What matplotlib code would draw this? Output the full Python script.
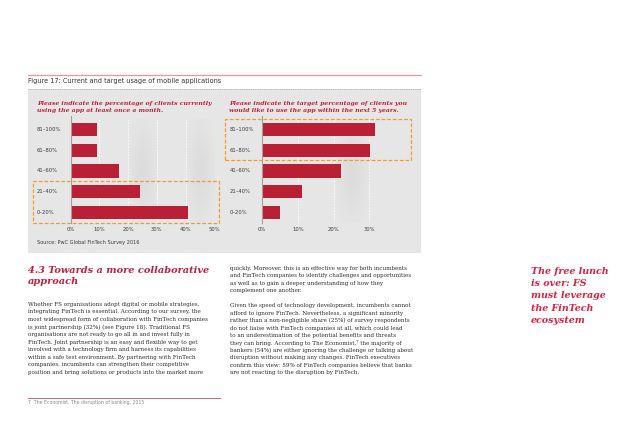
import numpy as np
import matplotlib
matplotlib.use("Agg")
import matplotlib.pyplot as plt
from matplotlib.patches import Rectangle
from matplotlib.lines import Line2D

# ---------------- data ----------------
categories = ['0–20%', '21–40%', '41–60%', '61–80%', '81–100%']
current_usage = [40.7, 24.0, 16.8, 9.1, 9.2]
target_usage = [5.1, 11.2, 22.1, 30.2, 31.5]
left_ticks = [0, 10, 20, 30, 40, 50]
right_ticks = [0, 10, 20, 30]

figure_title = "Figure 17: Current and target usage of mobile applications"
left_title = "Please indicate the percentage of clients currently\nusing the app at least once a month."
right_title = "Please indicate the target percentage of clients you\nwould like to use the app within the next 5 years."
source_text = "Source: PwC Global FinTech Survey 2016"
heading = "4.3 Towards a more collaborative\napproach"
body_left = [
    "Whether FS organisations adopt digital or mobile strategies,",
    "integrating FinTech is essential. According to our survey, the",
    "most widespread form of collaboration with FinTech companies",
    "is joint partnership (32%) (see Figure 18). Traditional FS",
    "organisations are not ready to go all in and invest fully in",
    "FinTech. Joint partnership is an easy and flexible way to get",
    "involved with a technology firm and harness its capabilities",
    "within a safe test environment. By partnering with FinTech",
    "companies, incumbents can strengthen their competitive",
    "position and bring solutions or products into the market more",
]
body_right_1 = [
    "quickly. Moreover, this is an effective way for both incumbents",
    "and FinTech companies to identify challenges and opportunities",
    "as well as to gain a deeper understanding of how they",
    "complement one another.",
]
body_right_2 = [
    "Given the speed of technology development, incumbents cannot",
    "afford to ignore FinTech. Nevertheless, a significant minority",
    "rather than a non-negligible share (25%) of survey respondents",
    "do not liaise with FinTech companies at all, which could lead",
    "to an underestimation of the potential benefits and threats",
    "they can bring. According to The Economist,\u2077 the majority of",
    "bankers (54%) are either ignoring the challenge or talking about",
    "disruption without making any changes. FinTech executives",
    "confirm this view: 59% of FinTech companies believe that banks",
    "are not reacting to the disruption by FinTech.",
]
footnote = "7  The Economist, The disruption of banking, 2015"
sidebar = "The free lunch\nis over: FS\nmust leverage\nthe FinTech\necosystem"

# ---------------- style ----------------
W, H = 640, 425
BAR = '#b91f35'
PANEL = '#e6e6e6'
ORANGE = '#f39c2e'
RED_HEAD = '#c41e3a'
RED_SIDE = '#e0203c'
TXT = '#3a3a3a'

fig = plt.figure(figsize=(6.4, 4.25), dpi=100)
fig.patch.set_facecolor('white')


def fx(x):
    return x / W


def fy(y):
    return 1 - y / H


def axes_px(l, t, r, b):
    return fig.add_axes([fx(l), fy(b), (r - l) / W, (b - t) / H])


# top red rule, title, dashed rule
fig.add_artist(Line2D([fx(28), fx(421)], [fy(75), fy(75)], color='#e89898', lw=0.9))
fig.text(fx(28), fy(81.5), figure_title, fontsize=4.7, color='#333333',
         family='DejaVu Sans', va='center', ha='left')
# grey panel
fig.add_artist(Rectangle((fx(28), fy(253)), (421 - 28) / W, (253 - 89) / H,
                         transform=fig.transFigure, facecolor=PANEL, edgecolor='none', zorder=0))
fig.add_artist(Line2D([fx(28), fx(421)], [fy(89.3), fy(89.3)], color='#a8a8a8', lw=0.5,
                      linestyle=(0, (2, 1.2)), zorder=1))

# chart titles
fig.text(fx(37), fy(107), left_title, fontsize=4.45, color=RED_HEAD, family='DejaVu Serif',
         weight='bold', style='italic', va='center', ha='left', linespacing=1.45)
fig.text(fx(229), fy(107), right_title, fontsize=4.45, color=RED_HEAD, family='DejaVu Serif',
         weight='bold', style='italic', va='center', ha='left', linespacing=1.45)


def band_image(ax, x0, x1):
    yy = np.linspace(-1, 1, 80)[:, None]
    xx = np.linspace(-1, 1, 40)[None, :]
    shade = 0.902 - 0.04 * np.exp(-(yy / 0.85) ** 2) * np.exp(-(xx / 0.85) ** 2)
    ax.imshow(shade, cmap='gray', vmin=0, vmax=1, extent=(x0, x1, -0.5, 4.5),
              aspect='auto', zorder=0, interpolation='bicubic')


def draw_chart(ax, values, ticks, xmax, bands, labx):
    ax.set_facecolor(PANEL)
    for b0, b1 in bands:
        band_image(ax, b0, b1)
    y = np.arange(len(categories))
    ax.barh(y, values, height=0.63, color=BAR, zorder=3)
    for t in ticks[1:]:
        ax.axvline(t, color='white', lw=0.6, linestyle=(0, (2, 1.5)), zorder=1)
    ax.axvline(0, color='#a89c9c', lw=0.8, zorder=4, ymin=0, ymax=1.03, clip_on=False)
    ax.set_xlim(0, xmax)
    ax.set_ylim(-0.5, 4.5)
    ax.set_xticks(ticks)
    ax.set_xticklabels([f'{t}%' for t in ticks], fontsize=3.8, color=TXT)
    ax.tick_params(axis='x', length=0, pad=3.5)
    ax.set_yticks([])
    for s in ax.spines.values():
        s.set_visible(False)
    for i, c in enumerate(categories):
        ax.text(labx, i, c, transform=ax.get_yaxis_transform(), fontsize=3.8,
                color=TXT, va='center', ha='left', family='DejaVu Sans')


# left chart: 0% at x=70.5, 50% at 214.3; bar centres 129.7 (top) .. 212.3 (bottom)
axL = axes_px(70.5, 119.4, 214.3, 222.6)
draw_chart(axL, current_usage, left_ticks, 50, [(20, 30), (40, 50)],
           (37 - 70.5) / (214.3 - 70.5))
# right chart: 0% at 262, 10% per 35.8 px
axR = axes_px(262, 119.4, 262 + 3.5 * 35.8, 222.6)
draw_chart(axR, target_usage, right_ticks, 35, [(20, 30)],
           (230 - 262) / (3.5 * 35.8))

# orange dashed highlight boxes
for (l, t, r, b) in [(33.3, 181, 218.7, 223.3), (225, 119.3, 410.7, 160.3)]:
    fig.add_artist(Rectangle((fx(l), fy(b)), (r - l) / W, (b - t) / H,
                             transform=fig.transFigure, facecolor='none', edgecolor=ORANGE,
                             lw=0.9, linestyle=(0, (3, 1.5)), zorder=5))

fig.text(fx(37), fy(242.7), source_text, fontsize=3.6, color=TXT, family='DejaVu Sans',
         va='center', ha='left')

# heading
fig.text(fx(28), fy(276), heading, fontsize=7.0, color=RED_HEAD, family='DejaVu Serif',
         weight='bold', style='italic', va='center', ha='left', linespacing=1.15)

# body text
BODY_FS = 4.07
for i, line in enumerate(body_left):
    fig.text(fx(28), fy(304.3 + i * 7.55), line, fontsize=BODY_FS, color='#2b2b2b',
             family='DejaVu Serif', va='center', ha='left')
for i, line in enumerate(body_right_1):
    fig.text(fx(230), fy(268.3 + i * 7.55), line, fontsize=BODY_FS, color='#2b2b2b',
             family='DejaVu Serif', va='center', ha='left')
for i, line in enumerate(body_right_2):
    fig.text(fx(230), fy(306 + i * 7.4), line, fontsize=BODY_FS, color='#2b2b2b',
             family='DejaVu Serif', va='center', ha='left')

# footnote
fig.add_artist(Line2D([fx(28), fx(220)], [fy(397.7), fy(397.7)], color='#e06070', lw=0.7))
fig.text(fx(28), fy(402.7), footnote, fontsize=3.3, color='#8a8a8a', family='DejaVu Sans',
         va='center', ha='left')

# sidebar
fig.text(fx(531), fy(296), sidebar, fontsize=6.8, color=RED_SIDE, family='DejaVu Serif',
         weight='bold', style='italic', va='center', ha='left', linespacing=1.45)

fig.savefig('out.png', dpi=100, facecolor='white')
